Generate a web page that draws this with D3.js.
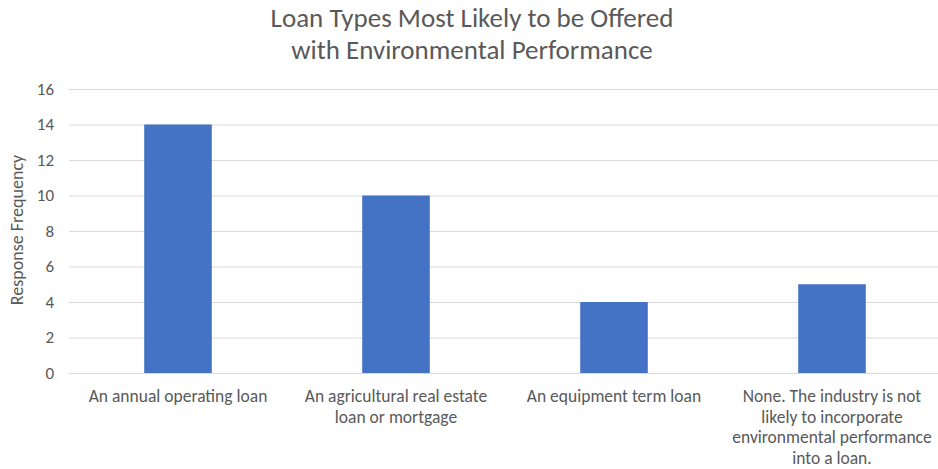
<!DOCTYPE html>
<html>
<head>
<meta charset="utf-8">
<script src="https://cdn.jsdelivr.net/npm/d3@7"></script>
<style>
  body { margin: 0; background: #fff; }
  text { font-family: Carlito, Lato, "Open Sans", sans-serif; fill: #595959; }
</style>
</head>
<body>
<div id="container"></div>
<script>
const categories = ['annual', 'realestate', 'equipment', 'none']
const labelLines = [
    ['An annual operating loan'],
    ['An agricultural real estate', 'loan or mortgage'],
    ['An equipment term loan'],
    ['None. The industry is not', 'likely to incorporate', 'environmental performance', 'into a loan.']
]
const values = [14, 10, 4, 5]
const yTicks = [0, 2, 4, 6, 8, 10, 12, 14, 16]
const titleLines = ['Loan Types Most Likely to be Offered', 'with Environmental Performance']

const width = 938
const height = 469
const plotLeft = 69
const plotRight = 941
const plotTop = 89
const plotBottom = 373

const svg = d3.select('#container').append('svg')
    .attr('width', width)
    .attr('height', height)

const xScale = d3.scaleBand()
    .domain(categories)
    .range([plotLeft, plotRight])
    .paddingInner(0.69)
    .paddingOuter(0.345)

const yScale = d3.scaleLinear()
    .domain([0, 16])
    .range([plotBottom, plotTop])

// gridlines
svg.append('g')
    .selectAll('line')
    .data(yTicks)
    .enter()
    .append('line')
    .attr('x1', plotLeft)
    .attr('x2', plotRight)
    .attr('y1', d => yScale(d) + 0.5)
    .attr('y2', d => yScale(d) + 0.5)
    .attr('stroke', '#d9d9d9')
    .attr('stroke-width', 1)

// y tick labels
svg.append('g')
    .selectAll('text')
    .data(yTicks)
    .enter()
    .append('text')
    .attr('x', 54)
    .attr('y', d => yScale(d))
    .attr('dy', '0.35em')
    .attr('text-anchor', 'end')
    .style('font-size', '17px')
    .text(d => d)

svg.selectAll('rect')
    .data(values)
    .enter()
    .append('rect')
    .attr('x', (d, i) => xScale(categories[i]))
    .attr('y', d => yScale(d))
    .attr('width', xScale.bandwidth())
    .attr('height', d => plotBottom - yScale(d))
    .attr('fill', '#4472c4')

// x axis line
svg.append('line')
    .attr('x1', plotLeft)
    .attr('x2', plotRight)
    .attr('y1', plotBottom + 0.5)
    .attr('y2', plotBottom + 0.5)
    .attr('stroke', '#d9d9d9')

// category labels
const labels = svg.append('g')
    .selectAll('text')
    .data(labelLines)
    .enter()
    .append('text')
    .attr('text-anchor', 'middle')
    .style('font-size', '17.5px')

labels.selectAll('tspan')
    .data((d, i) => d.map(line => ({line, i})))
    .enter()
    .append('tspan')
    .attr('x', d => xScale(categories[d.i]) + xScale.bandwidth() / 2)
    .attr('y', (d, j) => 402 + j * 20.7)
    .text(d => d.line)

// title
svg.append('text')
    .attr('text-anchor', 'middle')
    .style('font-size', '27px')
    .selectAll('tspan')
    .data(titleLines)
    .enter()
    .append('tspan')
    .attr('x', 472)
    .attr('y', (d, i) => 27 + i * 32)
    .text(d => d)

// y axis title
svg.append('text')
    .attr('transform', 'translate(23, 230) rotate(-90)')
    .attr('text-anchor', 'middle')
    .style('font-size', '18px')
    .text('Response Frequency')
</script>
</body>
</html>
